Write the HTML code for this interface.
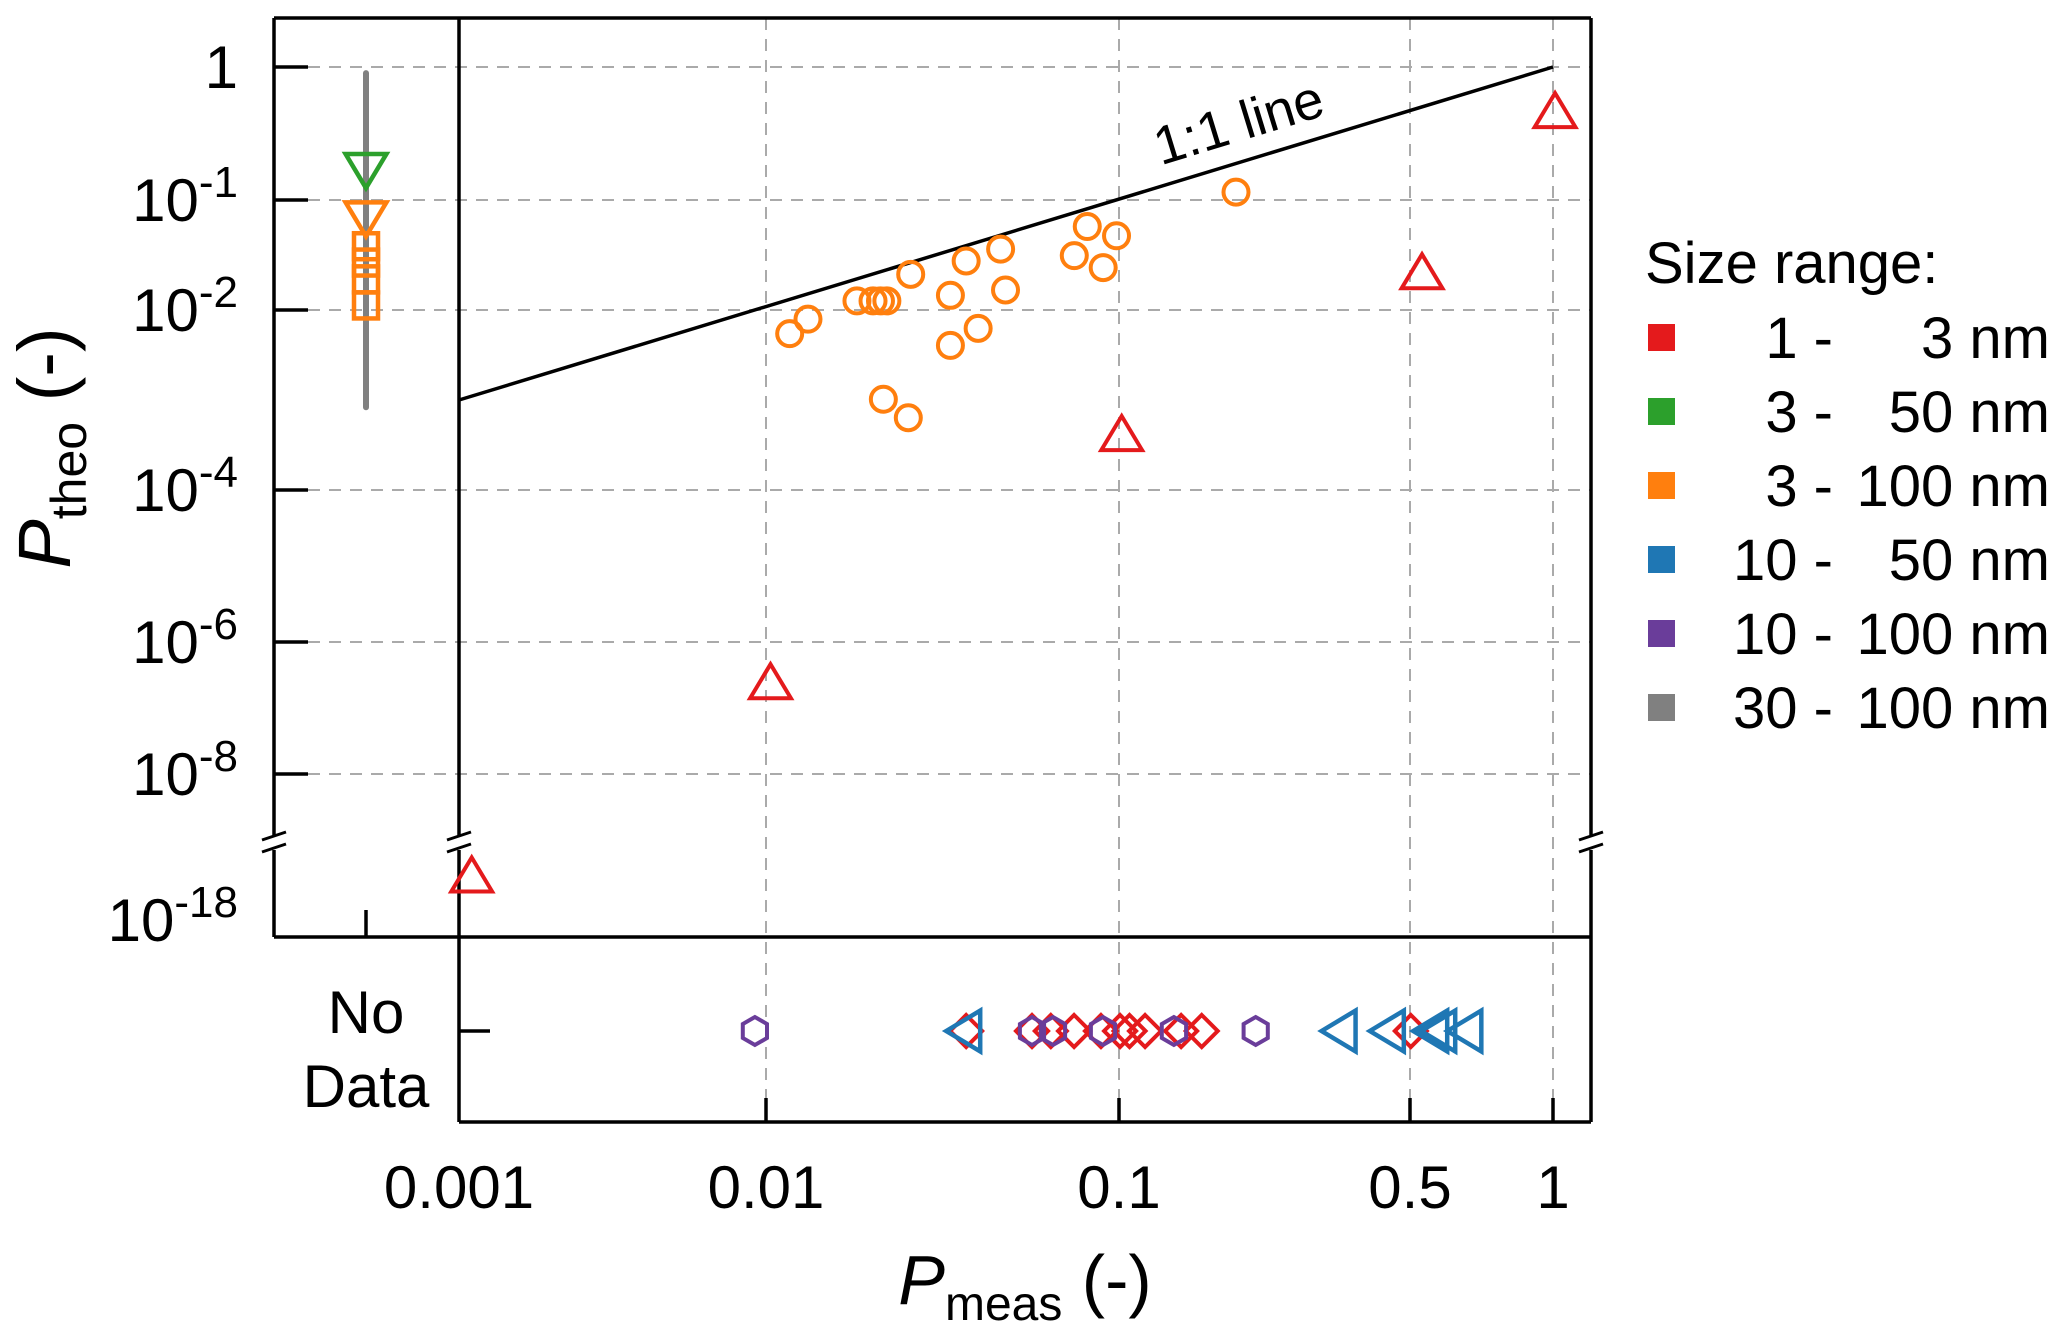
<!DOCTYPE html>
<html><head><meta charset="utf-8">
<style>
html,body{margin:0;padding:0;background:#fff;}
svg{display:block;font-family:"Liberation Sans",Arial,sans-serif;}
</style></head>
<body>
<svg id="chart" width="2067" height="1340" viewBox="0 0 2067 1340" xmlns="http://www.w3.org/2000/svg">
<g id="grid"></g>
<g id="frame" stroke="#000" stroke-width="3.5" fill="none">
  <line x1="274" y1="18" x2="1591" y2="18"/>
  <line x1="274" y1="937" x2="1591" y2="937"/>
  <line x1="459" y1="1122" x2="1591" y2="1122"/>
  <line x1="274" y1="18" x2="274" y2="835"/>
  <line x1="274" y1="850" x2="274" y2="937"/>
  <line x1="459" y1="18" x2="459" y2="835"/>
  <line x1="459" y1="850" x2="459" y2="1122"/>
  <line x1="1591" y1="18" x2="1591" y2="835"/>
  <line x1="1591" y1="850" x2="1591" y2="1122"/>
  <line x1="366" y1="937" x2="366" y2="910"/>
  <line x1="459" y1="1031" x2="490" y2="1031"/>
</g>
<g stroke="#000" stroke-width="3" fill="none">
  <line x1="262" y1="840" x2="286" y2="832"/><line x1="262" y1="852" x2="286" y2="844"/>
  <line x1="447" y1="840" x2="471" y2="832"/><line x1="447" y1="852" x2="471" y2="844"/>
  <line x1="1579" y1="840" x2="1603" y2="832"/><line x1="1579" y1="852" x2="1603" y2="844"/>
</g>
<g id="yticks"></g>
<g id="xticks"></g>
<g id="marks"></g>
<text x="0" y="0" font-size="54" transform="translate(1244,140) rotate(-17)" text-anchor="middle">1:1 line</text>
<text x="366" y="1033" font-size="60" text-anchor="middle">No</text>
<text x="366" y="1107" font-size="60" text-anchor="middle">Data</text>
<text transform="translate(70,448) rotate(-90)" font-size="74" text-anchor="middle"><tspan font-style="italic">P</tspan><tspan font-size="50" dy="16">theo</tspan><tspan dy="-16"> (-)</tspan></text>
<text x="1025" y="1304" font-size="70" text-anchor="middle"><tspan font-style="italic">P</tspan><tspan font-size="48" dy="16">meas</tspan><tspan dy="-16"> (-)</tspan></text>
<g id="legend">
  <text x="1645" y="283" font-size="58">Size range:</text>
</g>
</svg>
<script>
const ns="http://www.w3.org/2000/svg";
// axis calibration
const yTickLogs=[0,-1,-2,-4,-6,-8,-18];
const yTickPix=[67,200,310,490,642,774,920];
const xTickLogs=[-3,-2,-1,Math.log10(0.5),0];
const xTickPix=[459,766,1119,1410,1553];
// data
const orangeX=[0.01167,0.01315,0.0181,0.0201,0.0211,0.0220,0.0257,0.0333,0.0333,0.0369,0.0399,0.0462,0.0477,0.0747,0.0813,0.0902,0.0984,0.191,0.0215,0.0253];
const orangeY=[0.00546,0.00791,0.0121,0.0121,0.0121,0.0121,0.0211,0.0136,0.00404,0.0279,0.00625,0.0358,0.0152,0.0312,0.0574,0.0243,0.0473,0.1146,0.00102,0.000635];
const redTriX=[1.01,0.53,0.1015,0.0103,0.0011];
const redTriY=[0.46,0.0217,0.00041,2.4e-7,1e-15];
const grayRange=[0.9,0.00083];
const greenTriY=[0.17];
const orangeTriY=[0.069];
const orangeSqY=[0.038,0.027,0.019,0.011];
const noDataRedDiamondX=[0.0369,0.0567,0.0641,0.0746,0.0889,0.1006,0.106,0.1155,0.141,0.158,0.502];
const noDataPurpleHexX=[0.0092,0.0567,0.065,0.0901,0.1355,0.213];
const noDataBlueTriX=[0.0366,0.34,0.444,0.556,0.578,0.656];
const oneToOne=[0.001,1];
const yTickText=[["1",""],["10","-1"],["10","-2"],["10","-4"],["10","-6"],["10","-8"],["10","-18"]];
const xTickVals=[0.001,0.01,0.1,0.5,1];
const xTickText=["0.001","0.01","0.1","0.5","1"];
const legendLeft=["1 -","3 -","3 -","10 -","10 -","30 -"];
const legendRight=["3 nm","50 nm","100 nm","50 nm","100 nm","100 nm"];
const legendColors=["#e41a1c","#2ca02c","#ff7f0e","#1f77b4","#6a3d9a","#808080"];

function interp(v,xs,ys){
  const asc=xs[1]>xs[0];
  for(let i=0;i<xs.length-1;i++){
    const a=xs[i],b=xs[i+1];
    if((asc&&v<=b)||(!asc&&v>=b)||i==xs.length-2){
      return ys[i]+(v-a)/(b-a)*(ys[i+1]-ys[i]);
    }
  }
}
function X(v){return interp(Math.log10(v),xTickLogs,xTickPix);}
function Y(v){return interp(Math.log10(v),yTickLogs,yTickPix);}
const NDY=1031, LPX=366;
function mk(tag,attrs,parent){const e=document.createElementNS(ns,tag);for(const k in attrs)e.setAttribute(k,attrs[k]);parent.appendChild(e);return e;}
const grid=document.getElementById('grid'),marks=document.getElementById('marks'),yt=document.getElementById('yticks'),xt=document.getElementById('xticks'),leg=document.getElementById('legend');

for(let i=0;i<6;i++){
  const y=Y(Math.pow(10,yTickLogs[i]));
  const g=mk('line',{x1:308,y1:y,x2:1591,y2:y,stroke:'#aaa','stroke-width':2,'stroke-dasharray':'12,9'},grid);
  
  
  const t=mk('line',{x1:274,y1:y,x2:308,y2:y,stroke:'#000','stroke-width':3.5},yt);
  
  
}
for(let i=0;i<yTickText.length;i++){
  const y=Y(Math.pow(10,yTickLogs[i]));
  const tx=mk('text',{x:238,y:y+21,'font-size':60,'text-anchor':'end'},yt);
  
  
  const a=mk('tspan',{},tx);a.textContent=yTickText[i][0];
  if(yTickText[i][1]){const s=mk('tspan',{'font-size':44,dy:-24},tx);s.textContent=yTickText[i][1];}
}
for(let i=0;i<xTickVals.length;i++){
  const x=X(xTickVals[i]);
  if(i>0){
    const g=mk('line',{x1:x,y1:18,x2:x,y2:1100,stroke:'#aaa','stroke-width':2,'stroke-dasharray':'12,9'},grid);
    
    
    const t=mk('line',{x1:x,y1:1122,x2:x,y2:1098,stroke:'#000','stroke-width':3.5},xt);
    
    
  }
  const tx=mk('text',{x:x,y:1208,'font-size':60,'text-anchor':'middle'},xt);
  
  
  tx.textContent=xTickText[i];
}
const ln=mk('line',{x1:X(oneToOne[0]),y1:Y(oneToOne[0]),x2:X(oneToOne[1]),y2:Y(oneToOne[1]),stroke:'#000','stroke-width':3.5},marks);



function triUp(x,y,c,s){return mk('polygon',{points:`${x},${y-s*0.55} ${x-s*0.6},${y+s*0.45} ${x+s*0.6},${y+s*0.45}`,fill:'none',stroke:c,'stroke-width':4},marks);}
function triDown(x,y,c,s){return mk('polygon',{points:`${x},${y+s*0.55} ${x-s*0.6},${y-s*0.45} ${x+s*0.6},${y-s*0.45}`,fill:'none',stroke:c,'stroke-width':4.5},marks);}
function triLeft(x,y,c,s){return mk('polygon',{points:`${x-s*0.55},${y} ${x+s*0.45},${y-s*0.6} ${x+s*0.45},${y+s*0.6}`,fill:'none',stroke:c,'stroke-width':4.5},marks);}
function diamond(x,y,c,s){return mk('polygon',{points:`${x},${y-s} ${x+s},${y} ${x},${y+s} ${x-s},${y}`,fill:'none',stroke:c,'stroke-width':4},marks);}
function hex(x,y,c,s){let p=[];for(let k=0;k<6;k++){const a=Math.PI/3*k+Math.PI/6;p.push((x+s*Math.cos(a)).toFixed(1)+','+(y+s*Math.sin(a)).toFixed(1));}return mk('polygon',{points:p.join(' '),fill:'none',stroke:c,'stroke-width':4},marks);}

const gr=mk('line',{x1:LPX,y1:Y(grayRange[0]),x2:LPX,y2:Y(grayRange[1]),stroke:'#808080','stroke-width':6,'stroke-linecap':'round'},marks);


greenTriY.forEach(v=>{const e=triDown(LPX,Y(v),'#2ca02c',34);

});
orangeTriY.forEach(v=>{const e=triDown(LPX,Y(v),'#ff7f0e',34);

});
orangeSqY.forEach(v=>{const y=Y(v);const e=mk('rect',{x:LPX-12,y:y-13,width:24,height:26,fill:'none',stroke:'#ff7f0e','stroke-width':4.5},marks);

});

for(let i=0;i<orangeX.length;i++){
  const e=mk('circle',{cx:X(orangeX[i]),cy:Y(orangeY[i]),r:12.5,fill:'none',stroke:'#ff7f0e','stroke-width':4},marks);
  
  
}
for(let i=0;i<redTriX.length;i++){
  const e=triUp(X(redTriX[i]),Y(redTriY[i]),'#e41a1c',34);
  
  
}
noDataRedDiamondX.forEach(v=>{const e=diamond(X(v),NDY,'#e41a1c',16);

});
noDataPurpleHexX.forEach(v=>{const e=hex(X(v),NDY,'#6a3d9a',14);

});
noDataBlueTriX.forEach(v=>{const e=triLeft(X(v),NDY,'#1f77b4',34);

});

for(let i=0;i<legendLeft.length;i++){
  const cy=337+74*i;
  const r=mk('rect',{x:1648,y:cy-13,width:27,height:27,fill:legendColors[i]},leg);
  
  
  const a=mk('text',{x:1833,y:cy+21,'font-size':58,'text-anchor':'end'},leg);
  
  
  a.textContent=legendLeft[i];
  const b=mk('text',{x:2050,y:cy+21,'font-size':58,'text-anchor':'end'},leg);
  
  
  b.textContent=legendRight[i];
}
</script>
</body></html>
